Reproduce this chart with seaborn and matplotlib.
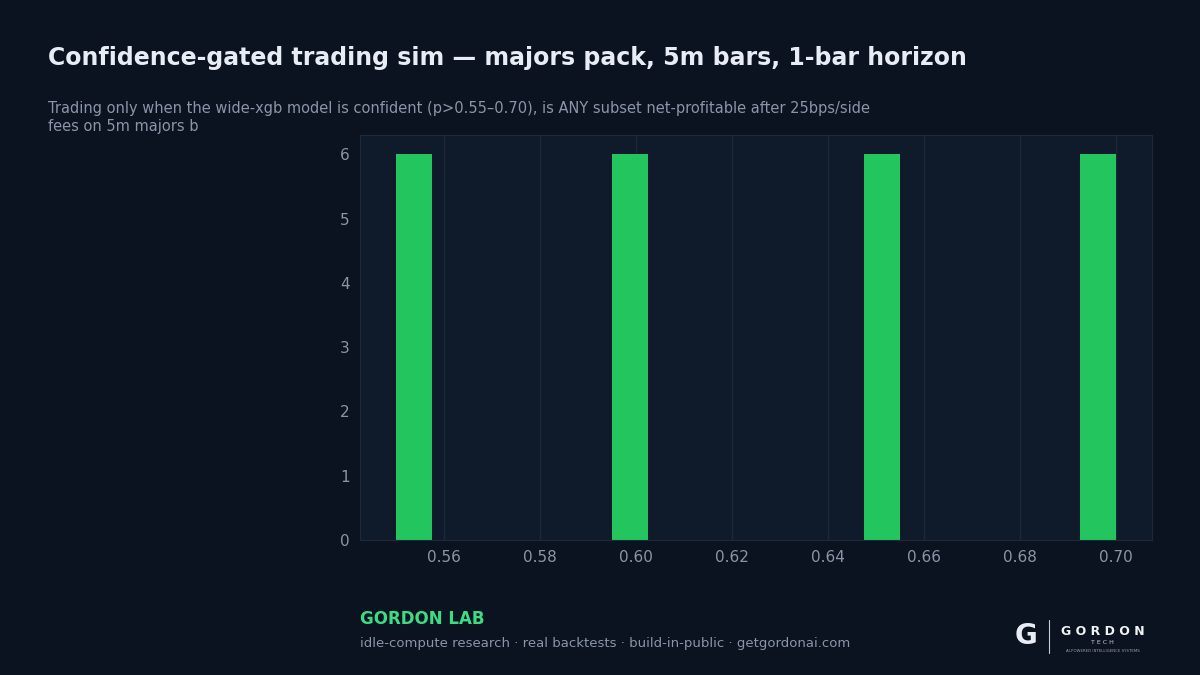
import pandas as pd
import seaborn as sns
import matplotlib.pyplot as plt

# confidence thresholds swept, 6 subsets each
thresholds = [0.55, 0.60, 0.65, 0.70]
runs_per_threshold = [6, 6, 6, 6]

rows = []
for t, n in zip(thresholds, runs_per_threshold):
    rows += [t] * n
df = pd.DataFrame({'p_threshold': rows})

BG = '#0b1220'
PANEL = '#0f1b2b'
GRID = '#1c2738'
TXT = '#8a96a8'
GREEN = '#22c55e'

sns.set_theme(style='dark')
plt.rcParams['font.family'] = ['DejaVu Sans']

fig = plt.figure(figsize=(12, 6.75), dpi=100, facecolor=BG)
ax = fig.add_axes([0.30, 0.20, 0.66, 0.60])
ax.set_facecolor(PANEL)

sns.histplot(data=df, x='p_threshold', bins=20, binrange=(0.55, 0.70),
             color=GREEN, alpha=1, linewidth=0, ax=ax)

ax.set_xticks([0.56, 0.58, 0.60, 0.62, 0.64, 0.66, 0.68, 0.70])
ax.set_xticklabels(['0.56', '0.58', '0.60', '0.62', '0.64', '0.66', '0.68', '0.70'])
ax.set_yticks(range(0, 7))
ax.set_xlabel('')
ax.set_ylabel('')
ax.grid(axis='x', color=GRID, linewidth=1)
ax.grid(axis='y', visible=False)
ax.set_axisbelow(True)
ax.tick_params(colors=TXT, labelsize=11, length=4, width=0.8, color='#3a4556')
for s in ax.spines.values():
    s.set_color('#1e2a3a')
    s.set_linewidth(0.8)

fig.text(0.04, 0.914, 'Confidence-gated trading sim \u2014 majors pack, 5m bars, 1-bar horizon',
         fontsize=17, fontweight='bold', color='#e8edf5', va='center')
fig.text(0.04, 0.826, 'Trading only when the wide-xgb model is confident (p>0.55\u20130.70), is ANY subset net-profitable after 25bps/side\nfees on 5m majors b',
         fontsize=10.5, color=TXT, va='center', linespacing=1.25)

fig.text(0.30, 0.083, 'GORDON LAB', fontsize=12, fontweight='bold', color='#3ddc84', va='center')
fig.text(0.30, 0.046, 'idle-compute research \u00b7 real backtests \u00b7 build-in-public \u00b7 getgordonai.com',
         fontsize=9.5, color=TXT, va='center')

# logo (text approximation)
fig.text(0.855, 0.058, 'G', fontsize=20, fontweight='bold', color='#e8edf5', va='center', ha='center')
fig.add_artist(plt.Line2D([0.874, 0.874], [0.033, 0.082], color='#c8ccd2', linewidth=0.8))
fig.text(0.919, 0.064, 'G O R D O N', fontsize=9, color='#f0f2f5', va='center', ha='center', fontweight='bold')
fig.text(0.919, 0.048, 'T E C H', fontsize=4.5, color='#c8ccd2', va='center', ha='center')
fig.text(0.919, 0.036, 'AI-POWERED INTELLIGENCE SYSTEMS', fontsize=2.8, color='#9aa0a8', va='center', ha='center')

fig.savefig('out.png', dpi=100, facecolor=BG)
